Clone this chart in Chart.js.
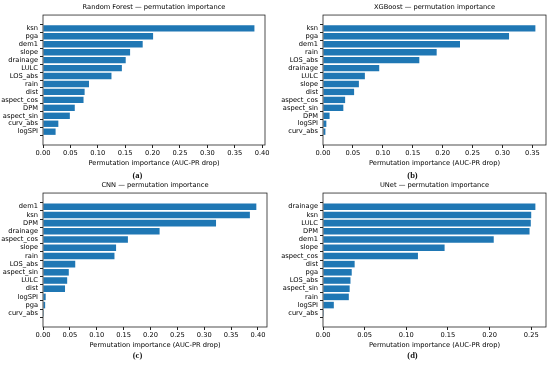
<!DOCTYPE html>
<html>
<head>
<meta charset="utf-8">
<script src="https://cdn.jsdelivr.net/npm/chart.js@4.4.1/dist/chart.umd.min.js"></script>
<style>
    body { margin: 0; background: #fff; width: 550px; height: 367px; position: relative; overflow: hidden; }
    .panel { position: absolute; }
    .cap { position: absolute; width: 275px; text-align: center; font: bold 8.5px "Liberation Serif", serif; color: #111; }
</style>
</head>
<body>
<div class="panel" style="left:0;top:0;width:275px;height:171px"><canvas id="chartA"></canvas></div>
<div class="panel" style="left:275px;top:0;width:275px;height:171px"><canvas id="chartB"></canvas></div>
<div class="panel" style="left:0;top:178px;width:275px;height:175px"><canvas id="chartC"></canvas></div>
<div class="panel" style="left:275px;top:178px;width:275px;height:175px"><canvas id="chartD"></canvas></div>
<div class="cap" style="left:0;top:170px">(a)</div>
<div class="cap" style="left:275px;top:170px">(b)</div>
<div class="cap" style="left:0;top:350px">(c)</div>
<div class="cap" style="left:275px;top:350px">(d)</div>
<script>
// feature order top -> bottom, values = AUC-PR drop
const rfFeatures = ['ksn', 'pga', 'dem1', 'slope', 'drainage', 'LULC', 'LOS_abs', 'rain', 'dist', 'aspect_cos', 'DPM', 'aspect_sin', 'curv_abs', 'logSPI'];
const rfValues = [0.386, 0.201, 0.182, 0.159, 0.151, 0.144, 0.125, 0.084, 0.076, 0.074, 0.058, 0.049, 0.028, 0.023];

const xgbFeatures = ['ksn', 'pga', 'dem1', 'rain', 'LOS_abs', 'drainage', 'LULC', 'slope', 'dist', 'aspect_cos', 'aspect_sin', 'DPM', 'logSPI', 'curv_abs'];
const xgbValues = [0.355, 0.311, 0.229, 0.190, 0.161, 0.094, 0.070, 0.060, 0.052, 0.037, 0.034, 0.011, 0.0056, 0.004];

const cnnFeatures = ['dem1', 'ksn', 'DPM', 'drainage', 'aspect_cos', 'slope', 'rain', 'LOS_abs', 'aspect_sin', 'LULC', 'dist', 'logSPI', 'pga', 'curv_abs'];
const cnnValues = [0.397, 0.385, 0.322, 0.217, 0.158, 0.136, 0.133, 0.060, 0.048, 0.045, 0.041, 0.005, 0.004, 0.0003];

const unetFeatures = ['drainage', 'ksn', 'LULC', 'DPM', 'dem1', 'slope', 'aspect_cos', 'dist', 'pga', 'LOS_abs', 'aspect_sin', 'rain', 'logSPI', 'curv_abs'];
const unetValues = [0.255, 0.250, 0.2495, 0.248, 0.205, 0.146, 0.114, 0.038, 0.0345, 0.033, 0.032, 0.031, 0.013, 0.001];

const FONT = { family: 'DejaVu Sans', size: 6.7 };
const INK = '#000';

const framePlugin = {
    id: 'frame',
    afterDraw(chart) {
        const a = chart.chartArea;
        const ctx = chart.ctx;
        ctx.save();
        ctx.strokeStyle = '#222';
        ctx.lineWidth = 0.8;
        ctx.strokeRect(a.left, a.top, a.right - a.left, a.bottom - a.top);
        ctx.restore();
    }
};

function makeChart(id, title, features, values, yWidth, padRight) {
    const n = features.length;
    const ctx = document.getElementById(id).getContext('2d');
    return new Chart(ctx, {
        type: 'bar',
        data: {
            datasets: [{
                data: features.map((f, i) => ({ x: values[i], y: i })),
                backgroundColor: '#1f77b4',
                borderWidth: 0,
                barPercentage: 0.8,
                categoryPercentage: 1.0
            }]
        },
        options: {
            indexAxis: 'y',
            responsive: true,
            maintainAspectRatio: false,
            animation: false,
            layout: { padding: { left: 0, right: padRight, top: 0, bottom: 0 } },
            plugins: {
                legend: { display: false },
                tooltip: { enabled: false },
                title: {
                    display: true,
                    fullSize: false,
                    text: title,
                    color: INK,
                    font: { family: FONT.family, size: FONT.size, weight: 'normal' },
                    padding: { top: 3, bottom: 4 }
                }
            },
            scales: {
                x: {
                    type: 'linear',
                    min: 0,
                    max: Math.max(...values) * 1.05,
                    afterFit: (s) => { s.height = 26; },
                    ticks: {
                        stepSize: 0.05,
                        includeBounds: false,
                        color: INK,
                        font: FONT,
                        padding: 1,
                        maxRotation: 0,
                        callback: (v) => v.toFixed(2)
                    },
                    grid: { drawOnChartArea: false, drawTicks: true, tickLength: 3, color: '#222' },
                    border: { display: false },
                    title: {
                        display: true,
                        text: 'Permutation importance (AUC-PR drop)',
                        color: INK,
                        font: FONT,
                        padding: { top: 0, bottom: 4 }
                    }
                },
                y: {
                    type: 'linear',
                    reverse: true,
                    min: -0.4 - 0.05 * (n - 0.2),
                    max: n - 0.6 + 0.05 * (n - 0.2),
                    afterFit: (s) => { s.width = yWidth; },
                    afterBuildTicks: (s) => { s.ticks = features.map((f, i) => ({ value: i })); },
                    ticks: {
                        autoSkip: false,
                        color: INK,
                        font: FONT,
                        padding: 2,
                        callback: (v) => features[v]
                    },
                    grid: { drawOnChartArea: false, drawTicks: true, tickLength: 3, color: '#222' },
                    border: { display: false }
                }
            }
        },
        plugins: [framePlugin]
    });
}

makeChart('chartA', 'Random Forest \u2014 permutation importance', rfFeatures, rfValues, 43, 10);
makeChart('chartB', 'XGBoost \u2014 permutation importance', xgbFeatures, xgbValues, 48, 4);
makeChart('chartC', 'CNN \u2014 permutation importance', cnnFeatures, cnnValues, 43, 8);
makeChart('chartD', 'UNet \u2014 permutation importance', unetFeatures, unetValues, 48, 4);
</script>
</body>
</html>
